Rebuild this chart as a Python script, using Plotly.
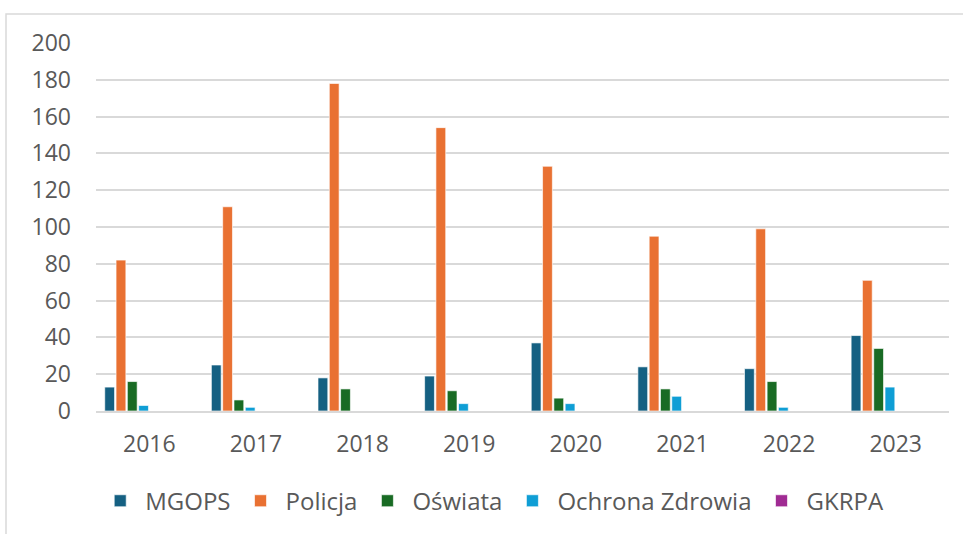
import plotly.graph_objects as go

years = ["2016", "2017", "2018", "2019", "2020", "2021", "2022", "2023"]
series_names = ["MGOPS", "Policja", "Oświata", "Ochrona Zdrowia", "GKRPA"]
mgops = [13, 25, 18, 19, 37, 24, 23, 41]
policja = [82, 111, 178, 154, 133, 95, 99, 71]
oswiata = [16, 6, 12, 11, 7, 12, 16, 34]
ochrona_zdrowia = [3, 2, 0, 4, 4, 8, 2, 13]
gkrpa = [0, 0, 0, 0, 0, 0, 0, 0]
y_ticks = [0, 20, 40, 60, 80, 100, 120, 140, 160, 180, 200]

colors = ["#156082", "#E97132", "#196B24", "#0F9ED5", "#A02B93"]
values = [mgops, policja, oswiata, ochrona_zdrowia, gkrpa]

FONT = "Open Sans"
TXT = "#595959"

fig = go.Figure()
slot = 0.106
start = -0.418
for i, (name, vals, col) in enumerate(zip(series_names, values, colors)):
    fig.add_trace(go.Bar(
        x=years, y=vals, name=name,
        marker=dict(color=col, line=dict(color="rgba(255,255,255,0.8)", width=0.8)),
        width=0.092, offset=start + i * slot,
        hoverinfo="x+y+name",
    ))

fig.update_layout(
    width=963, height=534,
    margin=dict(l=96, r=14, t=43, b=123, autoexpand=False),
    paper_bgcolor="white", plot_bgcolor="white",
    font=dict(family=FONT, size=23, color=TXT),
    barmode="group",
    showlegend=True,
    legend=dict(orientation="h", x=0.4645, xanchor="center", y=-0.245, yanchor="middle",
                font=dict(family=FONT, size=24, color=TXT), itemwidth=40,
                traceorder="normal"),
    shapes=[dict(type="rect", xref="paper", yref="paper",
                 x0=-0.1055, x1=1.2, y0=-0.6, y1=1.0788,
                 line=dict(color="#d9d9d9", width=1.5), fillcolor="rgba(0,0,0,0)",
                 layer="below")],
)
fig.update_xaxes(
    type="category", showgrid=False, showline=True, linecolor="#d9d9d9", linewidth=1.5,
    ticks="", tickfont=dict(family=FONT, size=23, color=TXT), ticklabelstandoff=12,
)
fig.update_yaxes(
    range=[0, 200], tickvals=y_ticks, showgrid=True, gridcolor="#d9d9d9", gridwidth=1.5,
    zeroline=False, showline=False, ticks="",
    tickfont=dict(family=FONT, size=23, color=TXT), ticklabelstandoff=24,
)

fig.write_html("out.html", config={"displayModeBar": False},
               post_script="document.body.style.margin='0';")
